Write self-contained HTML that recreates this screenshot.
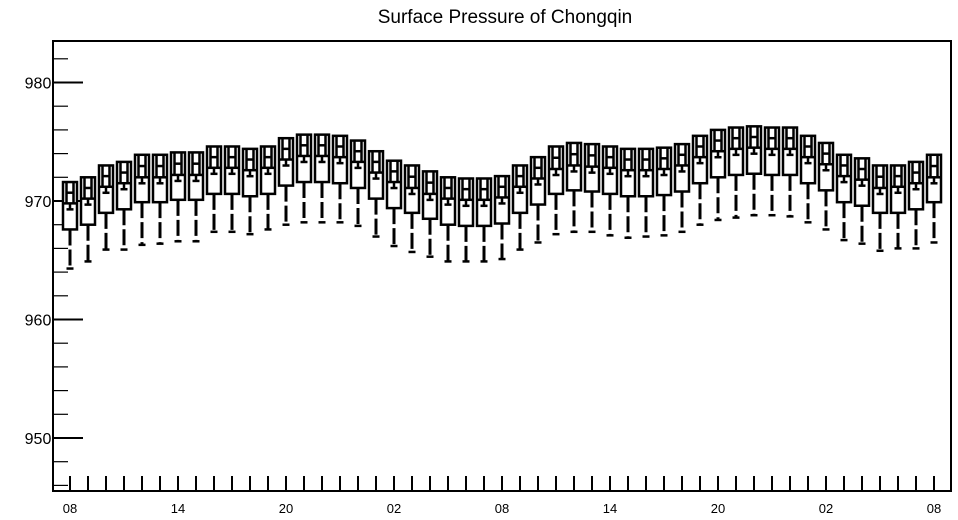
<!DOCTYPE html>
<html><head><meta charset="utf-8"><style>
body{margin:0;background:#fff;}
svg{display:block;font-family:"Liberation Sans",sans-serif;}
</style></head><body>
<svg id="chart" width="958" height="520" viewBox="0 0 958 520" xmlns="http://www.w3.org/2000/svg">
<rect width="958" height="520" fill="#fff"/>
<text x="505" y="23" font-size="19" text-anchor="middle">Surface Pressure of Chongqin</text>
<g id="axes"></g>
<g id="marks"></g>
<rect x="53" y="41" width="898" height="450" fill="none" stroke="#000" stroke-width="2"/>
</svg>
<script>
const xLabels = ["08","14","20","02","08","14","20","02","08"];
const yTicks = [950,960,970,980];
const q3 = [971.6,972.0,973.0,973.3,973.9,973.9,974.1,974.1,974.6,974.6,974.4,974.6,975.3,975.6,975.6,975.5,975.1,974.2,973.4,973.0,972.5,972.0,971.9,971.9,972.1,973.0,973.7,974.6,974.9,974.8,974.6,974.4,974.4,974.5,974.8,975.5,976.0,976.2,976.3,976.2,976.2,975.5,974.9,973.9,973.6,973.0,973.0,973.3,973.9];
const median = [969.8,970.2,971.2,971.5,972.0,972.0,972.2,972.2,972.8,972.8,972.6,972.8,973.5,973.8,973.8,973.7,973.3,972.4,971.6,971.1,970.6,970.2,970.1,970.1,970.3,971.2,971.9,972.7,973.0,972.9,972.8,972.6,972.6,972.7,973.0,973.7,974.2,974.4,974.5,974.4,974.4,973.7,973.1,972.1,971.8,971.1,971.2,971.5,972.0];
const q1 = [967.6,968.0,969.0,969.3,969.9,969.9,970.1,970.1,970.6,970.6,970.4,970.6,971.3,971.6,971.6,971.5,971.1,970.2,969.4,969.0,968.5,968.0,967.9,967.9,968.1,969.0,969.7,970.6,970.9,970.8,970.6,970.4,970.4,970.5,970.8,971.5,972.0,972.2,972.3,972.2,972.2,971.5,970.9,969.9,969.6,969.0,969.0,969.3,969.9];
const minV = [964.3,964.9,965.9,965.9,966.3,966.4,966.6,966.6,967.4,967.4,967.2,967.6,968.0,968.2,968.2,968.2,967.9,967.0,966.2,965.7,965.3,964.9,964.9,964.9,965.1,965.9,966.5,967.2,967.4,967.4,967.1,966.9,967.0,967.1,967.4,968.0,968.4,968.6,968.8,968.8,968.7,968.2,967.6,966.7,966.4,965.8,966.0,966.0,966.5];

const NS="http://www.w3.org/2000/svg";
const X0=70, DX=18, Y970=201, PPU=11.85;
function xs(i){return X0+i*DX;}
function ys(v){return Y970-(v-970)*PPU;}
function mk(tag,attrs,parent){const e=document.createElementNS(NS,tag);for(const k in attrs)e.setAttribute(k,attrs[k]);parent.appendChild(e);return e;}
const axes=document.getElementById('axes'), marks=document.getElementById('marks');

// y ticks: minor every 2 units, major every 10
for(let v=946; v<=982; v+=2){
  const major = v%10===0;
  const t=mk('line',{x1:53,x2:major?83:68,y1:ys(v),y2:ys(v),stroke:'#000','stroke-width':major?2:1.2},axes);
  
  
}
yTicks.forEach(v=>{
  const t=mk('text',{x:38,y:ys(v)+6,'font-size':16,'text-anchor':'middle'},axes);
  t.textContent=String(v);
  
  
});
// x ticks
for(let i=0;i<q3.length;i++){
  const t=mk('line',{x1:xs(i),x2:xs(i),y1:476,y2:491,stroke:'#000','stroke-width':2},axes);
  
  
}
xLabels.forEach((l,k)=>{
  const t=mk('text',{x:xs(k*6),y:513,'font-size':13,'text-anchor':'middle'},axes);
  t.textContent=l;
  
  
});
// boxes
for(let i=0;i<q3.length;i++){
  const cx=xs(i), top=ys(q3[i]), bot=ys(q1[i]), med=ys(median[i]), lo=ys(minV[i]);
  const g=mk('g',{stroke:'#000',fill:'none'},marks);
  
  
  mk('rect',{x:cx-7,y:top,width:14,height:bot-top,'stroke-width':2.5,fill:'#fff'},g);
  const mid=(top+med)/2;
  mk('line',{x1:cx-3.5,x2:cx-3.5,y1:top,y2:med,'stroke-width':2.5},g);
  mk('line',{x1:cx+3.5,x2:cx+3.5,y1:top,y2:med,'stroke-width':2.5},g);
  mk('line',{x1:cx-3.5,x2:cx+3.5,y1:mid,y2:mid,'stroke-width':2.5},g);
  mk('line',{x1:cx-7,x2:cx+7,y1:med,y2:med,'stroke-width':2.5},g);
  mk('line',{x1:cx,x2:cx,y1:med,y2:med+6,'stroke-width':2.5},g);
  mk('line',{x1:cx-3.5,x2:cx+3.5,y1:med+6,y2:med+6,'stroke-width':2.5},g);
  mk('line',{x1:cx,x2:cx,y1:bot,y2:lo,'stroke-width':3,'stroke-dasharray':'16 4'},g);
  mk('line',{x1:cx-3.5,x2:cx+3.5,y1:lo,y2:lo,'stroke-width':2.5},g);
}
</script>
</body></html>
